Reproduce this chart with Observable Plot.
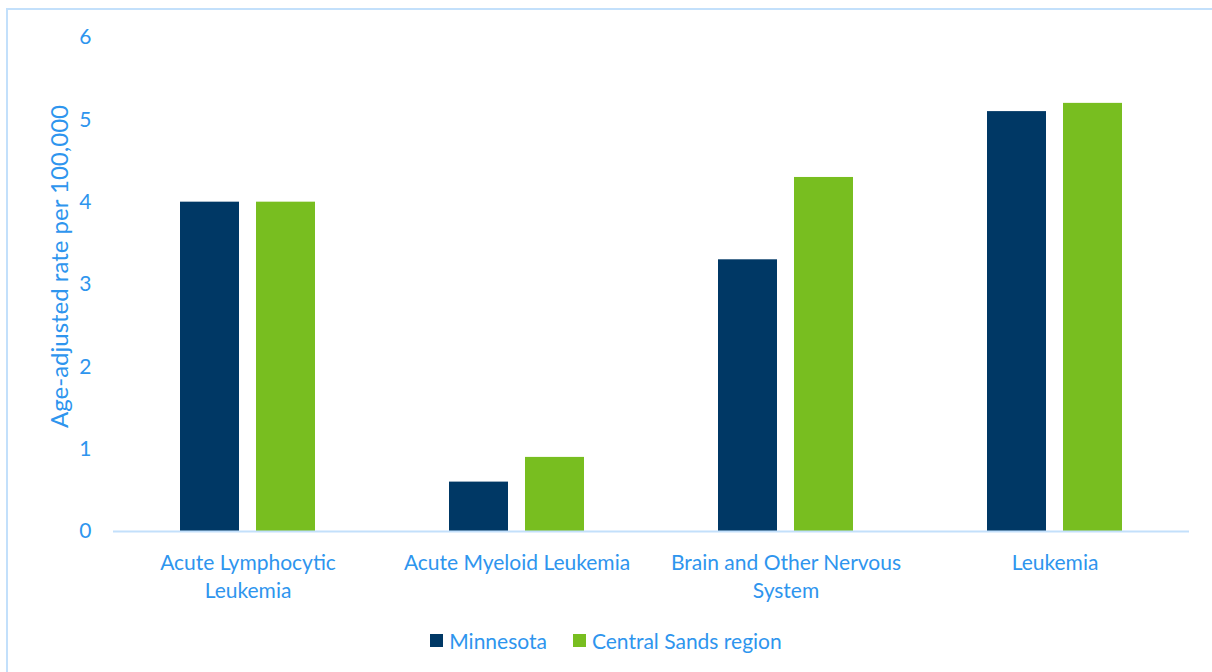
<!DOCTYPE html>
<html>
<head>
<meta charset="utf-8">
<script src="https://cdn.jsdelivr.net/npm/d3@7"></script>
<script src="https://cdn.jsdelivr.net/npm/@observablehq/plot@0.6"></script>
<style>
  html, body { margin: 0; padding: 0; background: #fff; }
  #wrap { position: relative; width: 1212px; height: 672px; overflow: hidden; font-family: Lato, "Open Sans", sans-serif; }
  #border { position: absolute; left: 6px; top: 8px; width: 1220px; height: 700px; border: 2px solid #c3e0fb; box-sizing: border-box; }
  #chart { position: absolute; left: 0; top: 0; }
  #legend { position: absolute; left: 0; top: 628px; width: 1212px; display: flex; justify-content: center; gap: 26px; font-size: 21px; color: #2e95ee; }
  .item { display: flex; align-items: center; gap: 6px; }
  .sw { width: 13px; height: 13px; display: inline-block; }
</style>
</head>
<body>
<div id="wrap">
  <div id="border"></div>
  <div id="chart"></div>
  <div id="legend"></div>
</div>
<script>
const categories = ["Acute Lymphocytic Leukemia", "Acute Myeloid Leukemia", "Brain and Other Nervous System", "Leukemia"];
const categoryLabels = ["Acute Lymphocytic\nLeukemia", "Acute Myeloid Leukemia", "Brain and Other Nervous\nSystem", "Leukemia"];
const seriesNames = ["Minnesota", "Central Sands region"];
const minnesota = [4.0, 0.6, 3.3, 5.1];
const centralSands = [4.0, 0.9, 4.3, 5.2];
const seriesColors = ["#003865", "#78be20"];
const yTicks = [0, 1, 2, 3, 4, 5, 6];
const yLabel = "Age-adjusted rate per 100,000";

const data = [];
categories.forEach((c, i) => {
  data.push({category: c, series: seriesNames[0], value: minnesota[i]});
  data.push({category: c, series: seriesNames[1], value: centralSands[i]});
});
const labelOf = new Map(categories.map((c, i) => [c, categoryLabels[i]]));
const textColor = "#2e95ee";

const plot = Plot.plot({
  width: 1212,
  height: 620,
  marginTop: 37,
  marginBottom: 89,
  marginLeft: 112,
  marginRight: 22,
  style: {fontFamily: "Lato, 'Open Sans', sans-serif", fontSize: "21px", color: textColor, background: "transparent"},
  fx: {domain: categories, padding: 0, axis: null},
  x: {domain: seriesNames, paddingInner: 0.221, paddingOuter: 0.86, axis: null},
  y: {domain: [0, 6]},
  color: {domain: seriesNames, range: seriesColors},
  marks: [
    Plot.barY(data, {fx: "category", x: "series", y: "value", fill: "series"}),
    Plot.ruleY([0], {stroke: "#c3e0fb", strokeWidth: 2}),
    Plot.axisY({ticks: yTicks, tickSize: 0, tickPadding: 22, tickFormat: d3.format("d"), label: null, fill: textColor, fontSize: 21}),
    Plot.text([yLabel], {facet: "super", text: d => d, frameAnchor: "left", textAnchor: "middle", rotate: -90, dx: -53, dy: -18, fill: textColor, fontSize: 24}),
    Plot.axisFx({anchor: "bottom", tickSize: 0, tickPadding: 18, label: null, tickFormat: d => labelOf.get(d), lineHeight: 1.35, fill: textColor, fontSize: 21})
  ]
});
document.getElementById("chart").appendChild(plot);

const legend = document.getElementById("legend");
seriesNames.forEach((s, i) => {
  const item = document.createElement("span");
  item.className = "item";
  const sw = document.createElement("span");
  sw.className = "sw";
  sw.style.background = seriesColors[i];
  item.appendChild(sw);
  const t = document.createElement("span");
  t.textContent = s;
  item.appendChild(t);
  legend.appendChild(item);
});
</script>
</body>
</html>
